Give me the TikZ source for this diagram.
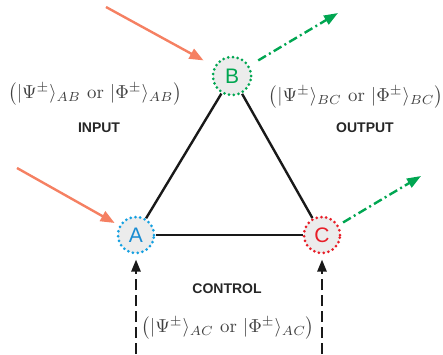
\documentclass[tikz,border=0pt]{standalone}
\usepackage[no-math]{fontspec}
\setsansfont{Liberation Sans}
\usetikzlibrary{arrows.meta}
\definecolor{orng}{RGB}{245,128,98}
\definecolor{grn}{RGB}{0,166,81}
\definecolor{blu}{RGB}{20,160,225}
\definecolor{blutxt}{RGB}{25,140,210}
\definecolor{rd}{RGB}{232,30,40}
\definecolor{fillg}{RGB}{236,236,236}
\newcommand{\pairlbl}[1]{\scalebox{1.88}{$\big(|\Psi^{\pm}\rangle_{#1}$ or $|\Phi^{\pm}\rangle_{#1}\big)$}}
\tikzset{
  qubit/.style={circle, minimum size=36pt, inner sep=0pt, fill=fillg, line width=3pt,
    dash pattern=on 0pt off 4.8pt, line cap=round, font=\sffamily\fontsize{21}{21}\selectfont},
  edgeline/.style={line width=2.4pt, black!90},
  inarrow/.style={line width=2.4pt, orng, -{Triangle[length=14pt,width=11pt]}},
  outarrow/.style={line width=2.4pt, grn, dash pattern=on 9pt off 3.5pt on 2pt off 3.5pt,
    -{Triangle[length=14pt,width=10pt]}},
  ctrlarrow/.style={line width=2.4pt, black!90, dash pattern=on 11pt off 5pt,
    -{Triangle[length=12pt,width=9pt]}},
  lbl/.style={font=\sffamily\bfseries\fontsize{14}{14}\selectfont, text=black!85},
  mathlbl/.style={text=black!75, inner sep=0pt}
}
\begin{document}
\begin{tikzpicture}[x=1pt,y=-1pt]
\useasboundingbox (0,0) rectangle (443,354);
% qubits
\node[qubit, draw=grn, text=grn, minimum size=38pt] (B) at (232,76) {B};
\node[qubit, draw=blu, text=blutxt] (A) at (136,235) {A};
\node[qubit, draw=rd, text=rd] (C) at (322,235) {C};
% triangle
\draw[edgeline] (B) -- (A);
\draw[edgeline] (B) -- (C);
\draw[edgeline] (A) -- (C);
% input arrows
\coordinate (inB) at (106,7);
\coordinate (inA) at (17,168);
\draw[inarrow, shorten >=12pt] (inB) -- (B);
\draw[inarrow, shorten >=5pt] (inA) -- (A);
% output arrows
\coordinate (outB) at (338,13);
\coordinate (outC) at (421,176);
\draw[outarrow, shorten <=10pt] (B) -- (outB);
\draw[outarrow, shorten <=5pt] (C) -- (outC);
% control arrows
\coordinate (ctA) at (136,354);
\coordinate (ctC) at (322,354);
\draw[ctrlarrow, shorten >=5pt] (ctA) -- (A);
\draw[ctrlarrow, shorten >=5pt] (ctC) -- (C);
% labels
\node[mathlbl] (mAB) at (95,94) {\pairlbl{AB}};
\node[mathlbl] (mBC) at (356,97) {\pairlbl{BC}};
\node[mathlbl] (mAC) at (228,328) {\pairlbl{AC}};
\node[lbl] (inp) at (99,128) {INPUT};
\node[lbl] (outp) at (365,128) {OUTPUT};
\node[lbl] (ctrl) at (227,289) {CONTROL};
\end{tikzpicture}
\end{document}
